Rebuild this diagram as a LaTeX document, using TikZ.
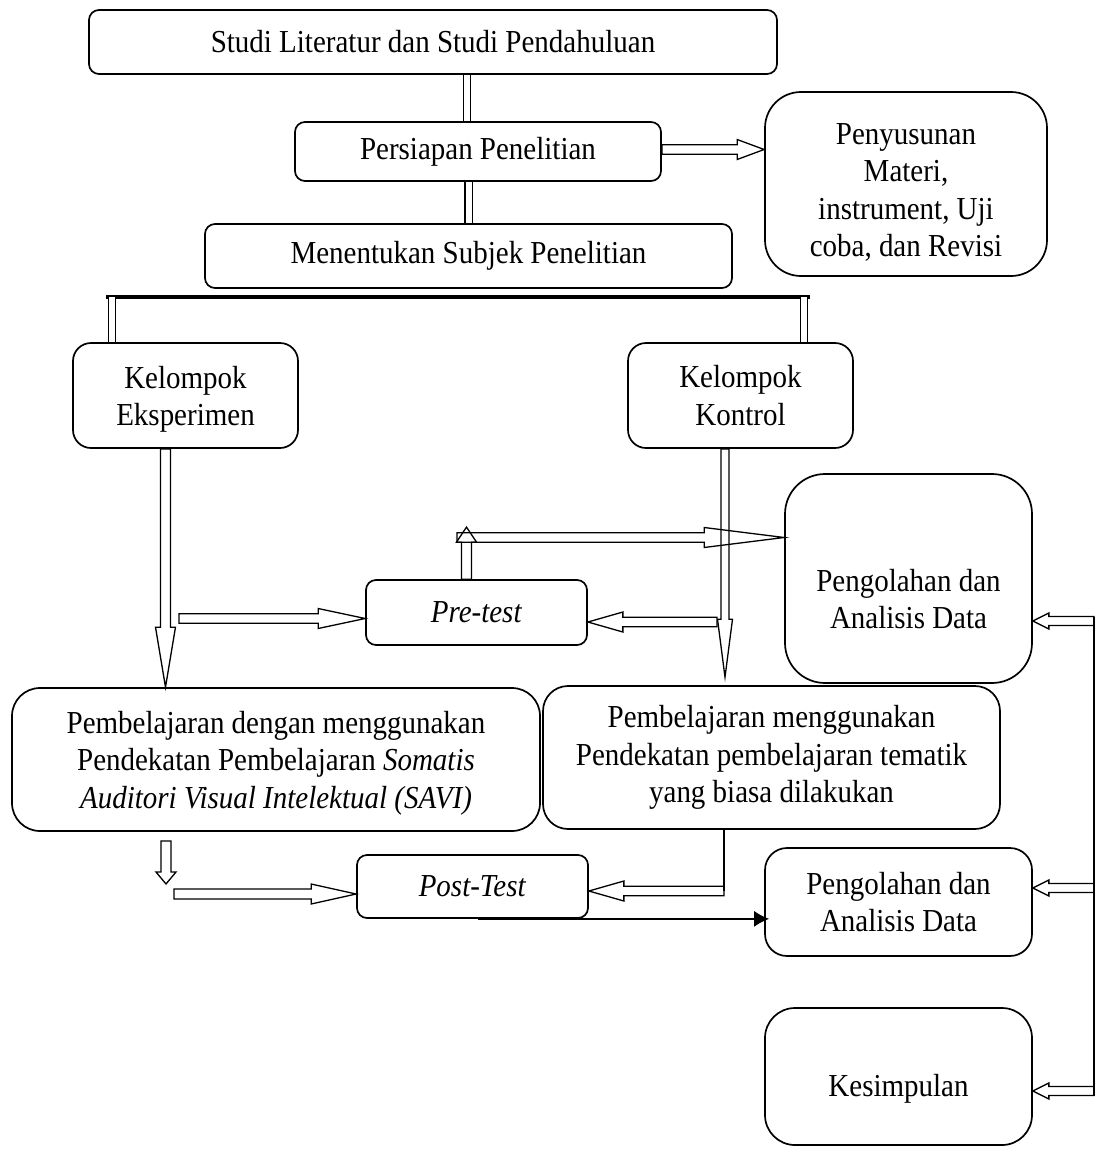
\documentclass[tikz,border=0pt]{standalone}
\usepackage{fontspec}
\setmainfont{Liberation Serif}[FakeStretch=0.906]
\usepackage{tikz}
\usetikzlibrary{calc}
\usetikzlibrary{arrows.meta}
\tikzset{every picture/.style={line width=1.5pt}}
\newcommand{\teks}{\fontsize{32pt}{37.5pt}\selectfont}
\tikzset{
  kotak/.style={draw, line width=1.7pt, rounded corners=#1, align=center, inner sep=0pt, font=\teks},
  kotak/.default=10pt,
  dbl/.style={double, double distance=6pt, line width=1.3pt},
  bar/.style={line width=3.8pt},
  fat/.style n args={3}{line width=1.3pt, line join=miter, to path={
    let \p1=(\tikztostart), \p2=(\tikztotarget),
        \n1={veclen(\x2-\x1,\y2-\y1)}, \n2={\n1-#3},
        \p3=($(\p1)!1pt*\n2!(\p2)$) in
    ($(\p1)!#1!90:(\p2)$) -- ($(\p3)!#1!90:(\p2)$) -- ($(\p3)!#2!90:(\p2)$) -- (\p2)
    -- ($(\p3)!#2!-90:(\p2)$) -- ($(\p3)!#1!-90:(\p2)$) -- ($(\p1)!#1!-90:(\p2)$) -- cycle}},
  tip/.style={line width=1.5pt, -{Latex[length=15pt,width=16pt]}}
}

\begin{document}
\begin{tikzpicture}[x=1pt,y=-1pt]
\useasboundingbox (0,0) rectangle (1096,1157);

%Rounded Rect (boxes)
\node[kotak, minimum width=688pt, minimum height=64pt] (studi) at (433,42) {Studi Literatur dan Studi Pendahuluan};
\node[kotak, minimum width=366pt, minimum height=59pt] (persiapan) at (478,151.5) {Persiapan Penelitian};
\node[kotak=36pt, minimum width=282pt, minimum height=184pt, text height=150pt] (penyusunan) at (906,184) {Penyusunan\\ Materi,\\ instrument, Uji\\ coba, dan Revisi};
\node[kotak, minimum width=527pt, minimum height=64pt] (subjek) at (468.5,256) {Menentukan Subjek Penelitian};
\node[kotak=18pt, minimum width=225pt, minimum height=105pt, text height=67pt] (eksp) at (185.5,395.5) {Kelompok\\ Eksperimen};
\node[kotak=18pt, minimum width=225pt, minimum height=105pt] (kontrol) at (740.5,395.5) {Kelompok\\ Kontrol};
\node[kotak=40pt, minimum width=247pt, minimum height=209pt, text height=101pt] (olah1) at (908.5,578.5) {Pengolahan dan\\ Analisis Data};
\node[kotak, minimum width=221pt, minimum height=65pt] (pretest) at (476.5,612.5) {\textit{Pre-test}};
\node[kotak=28pt, minimum width=528pt, minimum height=143pt, text height=104.5pt] (savi) at (276,759.5) {Pembelajaran dengan menggunakan\\ Pendekatan Pembelajaran \textit{Somatis}\\ \textit{Auditori Visual Intelektual (SAVI)}};
\node[kotak=25pt, minimum width=457pt, minimum height=143pt] (tematik) at (771.5,757.5) {Pembelajaran menggunakan\\ Pendekatan pembelajaran tematik\\ yang biasa dilakukan};
\node[kotak, minimum width=231pt, minimum height=63pt] (posttest) at (472.5,886.5) {\textit{Post-Test}};
\node[kotak=22pt, minimum width=267pt, minimum height=108pt] (olah2) at (898.5,902) {Pengolahan dan\\ Analisis Data};
\node[kotak=30pt, minimum width=267pt, minimum height=137pt, text height=46pt] (simpulan) at (898.5,1076.5) {Kesimpulan};

%Free ends
\coordinate (barL) at (106,297);
\coordinate (barR) at (810,297);
\coordinate (bar1) at (112,297);
\coordinate (bar2) at (804,297);
\coordinate (a1) at (179,618.5);
\coordinate (a2) at (717,622);
\coordinate (a3) at (457,537.5);
\coordinate (a4) at (174,894);
\coordinate (s1) at (166,841);
\coordinate (s2) at (166,884);
\coordinate (t1) at (724,891);
\coordinate (k1) at ([xshift=-15.5pt]kontrol.south);
\coordinate (k2) at ($(k1 |- tematik.north)+(0,-8)$);
\coordinate (u1) at ([xshift=-10pt]pretest.north);
\coordinate (u2) at ($(u1)+(0,-52)$);
\coordinate (r1) at (1094,621);
\coordinate (r2) at (1094,888);
\coordinate (r3) at (1094,1091);

%Double Lines
\draw[dbl] ([xshift=-11pt]persiapan.north) -- ([xshift=-11pt]persiapan.north |- studi.south);
\draw[dbl] (subjek.north) -- (subjek.north |- persiapan.south);
\draw[bar] (barL) -- (barR);
\draw[dbl] (bar1) -- (bar1 |- eksp.north);
\draw[dbl] (bar2) -- (bar2 |- kontrol.north);

%Block Arrows
\draw[fat={4.8pt}{10pt}{27}] ([yshift=2pt]persiapan.east) to ([yshift=2pt]persiapan.east -| penyusunan.west);
\draw[fat={5pt}{10pt}{60}] ([xshift=-20pt]eksp.south) to ([xshift=-20pt]eksp.south |- savi.north);
\draw[fat={4.7pt}{10pt}{47}] (a1) to (a1 -| pretest.west);
\draw[fat={4pt}{7.5pt}{58}] (k1) to (k2);
\draw[fat={4.7pt}{10pt}{35}] (a2) to (a2 -| pretest.east);
\draw[fat={5pt}{10pt}{15}] (u1) to (u2);
\draw[fat={4.8pt}{10pt}{80}] (a3) to (a3 -| olah1.west);
\draw[fat={5pt}{10pt}{12}] (s1) to (s2);
\draw[fat={5pt}{10pt}{45}] (a4) to (a4 -| posttest.west);
\draw (t1 |- tematik.south) -- (t1);
\draw[fat={4.7pt}{10pt}{35}] (t1) to (t1 -| posttest.east);
\draw[tip] ([xshift=5pt]posttest.south) -- ([xshift=5pt]posttest.south -| olah2.west);

%Right side
\draw[line width=1.3pt] ([yshift=4.5pt]r1) -- ([yshift=-4.5pt]r3);
\draw[fat={4.5pt}{8pt}{16}] (r1) to (r1 -| olah1.east);
\draw[fat={4.5pt}{8pt}{16}] (r2) to (r2 -| olah2.east);
\draw[fat={4.5pt}{8pt}{16}] (r3) to (r3 -| simpulan.east);

\end{tikzpicture}
\end{document}
